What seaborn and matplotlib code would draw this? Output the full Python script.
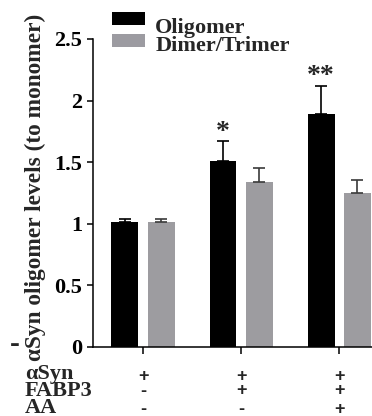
import numpy as np
import pandas as pd
import matplotlib
matplotlib.use("Agg")
import matplotlib.pyplot as plt
import matplotlib.transforms as mtransforms
from matplotlib.patches import Patch, Rectangle
from matplotlib.legend_handler import HandlerPatch
import seaborn as sns

# ---------------- data ----------------
conditions = ["C1", "C2", "C3"]
series = ["Oligomer", "Dimer/Trimer"]
oligomer = [1.01, 1.51, 1.89]
oligomer_err = [0.025, 0.16, 0.23]
dimer = [1.01, 1.34, 1.25]
dimer_err = [0.03, 0.11, 0.105]
stars = ["", "*", "**"]
row_labels = ["αSyn", "FABP3", "AA"]
asyn_signs = ["+", "+", "+"]
fabp3_signs = ["-", "+", "+"]
aa_signs = ["-", "-", "+"]
yticks = [0, 0.5, 1, 1.5, 2, 2.5]
ytick_labels = ["0", "0.5", "1", "1.5", "2", "2.5"]
ylabel = "αSyn oligomer levels (to monomer)"

colors = {"Oligomer": "#000000", "Dimer/Trimer": "#9c9ba1"}
err_colors = {"Oligomer": "#000000", "Dimer/Trimer": "#3a3a3a"}

df = pd.DataFrame({
    "condition": conditions * 2,
    "series": [series[0]] * 3 + [series[1]] * 3,
    "value": oligomer + dimer,
})
errs = {series[0]: oligomer_err, series[1]: dimer_err}

# ---------------- figure ----------------
sns.set_style("ticks")
plt.rcParams["font.family"] = ["Liberation Serif", "DejaVu Serif"]
plt.rcParams["font.weight"] = "bold"

W, H = 372, 416
fig = plt.figure(figsize=(W / 100, H / 100), dpi=100)
ax = fig.add_axes([93 / W, (H - 346.6) / H, (W - 93) / W, (346.6 - 39) / H])

sns.barplot(data=df, x="condition", y="value", hue="series",
            order=conditions, hue_order=series, palette=colors,
            width=0.74, gap=0.26, errorbar=None, linewidth=0,
            legend=False, ax=ax)

# error bars (upper only) and significance stars
for cont, s in zip(ax.containers, series):
    for i, bar in enumerate(cont):
        xc = bar.get_x() + bar.get_width() / 2
        h = bar.get_height()
        e = errs[s][i]
        ax.errorbar([xc], [h], yerr=[[0], [e]], fmt="none",
                    ecolor=err_colors[s], elinewidth=1.2, capsize=4.3,
                    capthick=1.2, zorder=1)
        if s == series[0] and stars[i]:
            ax.text(xc, h + e + 0.02, stars[i], ha="center", va="baseline",
                    fontsize=20, fontweight="bold")

ax.set_xlim(-0.51, 2.333)
ax.set_ylim(0, 2.5)
ax.set_yticks(yticks)
ax.set_yticklabels(ytick_labels, fontsize=16, fontweight="bold")
ax.set_xticks(range(len(conditions)))
ax.set_xticklabels([])
ax.set_xlabel("")
ax.set_ylabel("")
ax.tick_params(axis="y", direction="out", length=4, width=1.1, pad=4, colors="black")
ax.tick_params(axis="x", direction="out", length=5, width=1.1, colors="black")
for sp in ["top", "right"]:
    ax.spines[sp].set_visible(False)
for sp in ["left", "bottom"]:
    ax.spines[sp].set_linewidth(1.1)
    ax.spines[sp].set_color("black")

# y label
fig.text(35 / W, 1 - 187 / H, ylabel, rotation=90, ha="center", va="center",
         fontsize=16.8, fontweight="bold")
fig.text(15 / W, 1 - 344 / H, "-", ha="center", va="center",
         fontsize=21, fontweight="bold")


# legend: boxes sit a little higher than the text rows
class RaisedBox(HandlerPatch):
    def __init__(self, shift, **kw):
        super().__init__(**kw)
        self.shift = shift

    def create_artists(self, legend, orig_handle, xdescent, ydescent,
                       width, height, fontsize, trans):
        r = Rectangle((-xdescent, -ydescent + self.shift), width, height,
                      facecolor=orig_handle.get_facecolor(), edgecolor="none",
                      transform=trans)
        return [r]


handles = [Patch(facecolor=colors[s], edgecolor="none") for s in series]
ax.legend(handles, series, loc="upper left",
          bbox_to_anchor=(112 / W, 1 - 18 / H), bbox_transform=fig.transFigure,
          frameon=False, borderpad=0, borderaxespad=0, handlelength=1.5,
          handleheight=0.54, handletextpad=0.45, labelspacing=-0.07,
          handler_map={handles[0]: RaisedBox(5.0), handles[1]: RaisedBox(2.2)},
          prop={"family": "Liberation Serif", "weight": "bold", "size": 16})

# condition table under the axis
trans = mtransforms.blended_transform_factory(ax.transData, fig.transFigure)
baselines = [379, 396, 413]
sign_centers = [375, 389.5, 408]
for lab, signs, yb, yc in zip(row_labels, [asyn_signs, fabp3_signs, aa_signs],
                              baselines, sign_centers):
    fig.text(25 / W, 1 - yb / H, lab, ha="left", va="baseline",
             fontsize=16, fontweight="bold")
    for i, sg in enumerate(signs):
        ax.text(i, 1 - (yc + 1.5) / H, sg, transform=trans, ha="center",
                va="center", fontsize=13, fontweight="bold",
                family=["Liberation Sans", "DejaVu Sans"])

fig.savefig("out.png", dpi=100)
